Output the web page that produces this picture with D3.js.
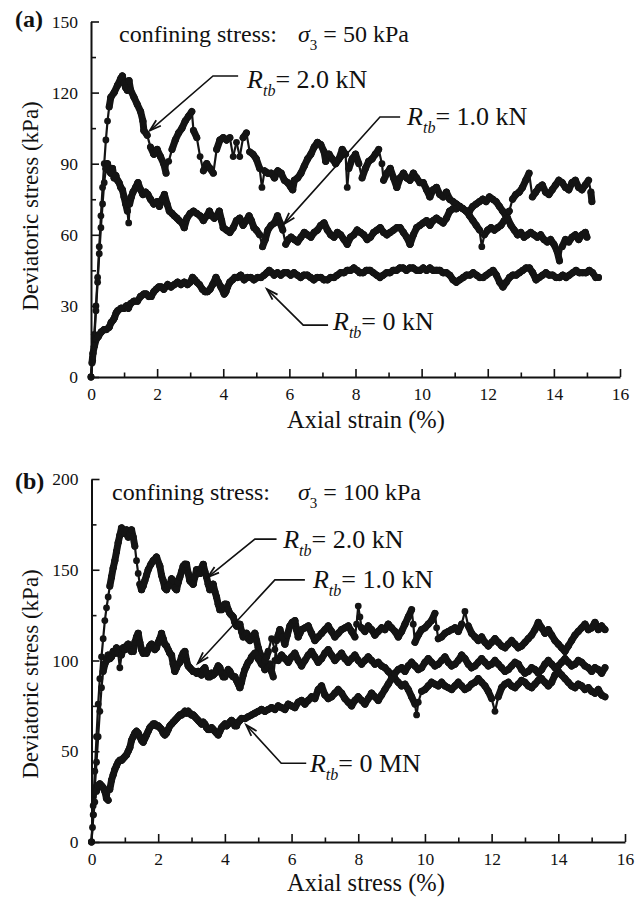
<!DOCTYPE html>
<html>
<head>
<meta charset="utf-8">
<script src="https://cdn.jsdelivr.net/npm/d3@7"></script>
<style>
  body { margin: 0; background: #fff; }
  svg { display: block; font-family: "Liberation Serif", "Times New Roman", serif; }
</style>
</head>
<body>
<svg id="chart" width="643" height="900"></svg>
<script>
// ---- data: [axial strain %, deviatoric stress kPa] ----

// (a) confining stress 50 kPa
const a_rtb20 = [[0,0],[0.05,8],[0.1,18],[0.15,30],[0.2,42],[0.25,55],[0.3,68],[0.35,80],[0.4,90],[0.45,100],[0.5,108],[0.55,114],[0.6,118],[0.7,120],[0.8,123],[0.9,126],[0.95,127],[1.0,124],[1.05,122],[1.1,121],[1.15,125],[1.2,121],[1.3,118],[1.4,115],[1.5,112],[1.57,108],[1.6,104],[1.7,102],[1.8,97],[1.9,94],[2.0,96],[2.1,93],[2.2,90],[2.27,86],[2.35,91],[2.45,96],[2.55,100],[2.65,103],[2.75,105],[2.85,108],[2.95,110],[3.05,112],[3.1,104],[3.2,101],[3.3,93],[3.4,87],[3.5,90],[3.6,88],[3.7,86],[3.8,96],[3.9,100],[4.0,101],[4.1,100],[4.2,101],[4.3,93],[4.4,99],[4.5,93],[4.6,101],[4.7,103],[4.8,95],[4.9,94],[5.0,92],[5.1,88],[5.17,80],[5.25,87],[5.35,86],[5.45,86],[5.55,84],[5.65,87],[5.75,86],[5.85,83],[5.95,82],[6.05,80],[6.1,79],[6.15,83],[6.25,84],[6.35,86],[6.45,89],[6.55,92],[6.65,94],[6.75,97],[6.85,99],[6.95,98],[7.05,95],[7.1,91],[7.2,94],[7.3,92],[7.4,90],[7.5,92],[7.6,96],[7.7,94],[7.75,80],[7.8,88],[7.9,92],[8.0,94],[8.1,90],[8.2,84],[8.3,88],[8.4,91],[8.5,92],[8.6,94],[8.7,96],[8.8,90],[8.85,83],[8.95,86],[9.05,88],[9.15,84],[9.25,80],[9.35,84],[9.45,86],[9.55,84],[9.65,83],[9.75,86],[9.85,84],[9.95,82],[10.05,82],[10.15,79],[10.25,76],[10.35,79],[10.45,80],[10.55,77],[10.65,76],[10.75,78],[10.85,75],[10.95,74],[11.05,73],[11.15,72],[11.25,71],[11.35,70],[11.45,70],[11.55,72],[11.65,73],[11.75,74],[11.85,75],[11.95,74],[12.05,76],[12.15,75],[12.25,74],[12.35,72],[12.45,70],[12.55,68],[12.65,70],[12.75,75],[12.85,77],[12.95,78],[13.05,80],[13.15,83],[13.25,86],[13.35,76],[13.45,78],[13.55,80],[13.65,81],[13.75,78],[13.85,77],[13.95,79],[14.05,81],[14.15,83],[14.25,82],[14.35,80],[14.45,79],[14.55,82],[14.65,83],[14.75,80],[14.85,79],[14.95,81],[15.05,83],[15.12,78],[15.15,74]];

const a_rtb10 = [[0,0],[0.05,7],[0.1,16],[0.15,28],[0.2,40],[0.25,52],[0.3,63],[0.35,73],[0.4,82],[0.45,88],[0.5,90],[0.55,87],[0.6,86],[0.65,88],[0.7,84],[0.75,85],[0.8,83],[0.85,82],[0.9,80],[0.95,79],[1.0,76],[1.05,73],[1.1,70],[1.14,65],[1.17,73],[1.22,76],[1.27,78],[1.35,80],[1.42,82],[1.5,79],[1.57,77],[1.65,78],[1.72,77],[1.8,75],[1.9,73],[2.0,74],[2.07,72],[2.15,75],[2.22,77],[2.3,73],[2.37,70],[2.45,69],[2.52,68],[2.6,67],[2.67,66],[2.75,65],[2.82,63],[2.9,67],[3.0,69],[3.1,70],[3.2,69],[3.3,68],[3.4,66],[3.5,68],[3.58,70],[3.65,68],[3.73,67],[3.8,68],[3.88,70],[3.95,66],[4.0,63],[4.1,62],[4.2,61],[4.3,63],[4.4,66],[4.5,67],[4.6,64],[4.7,66],[4.78,68],[4.85,66],[4.93,63],[5.0,62],[5.1,60],[5.19,55],[5.27,58],[5.35,62],[5.45,64],[5.55,65],[5.64,68],[5.72,65],[5.8,62],[5.89,56],[5.97,58],[6.05,59],[6.15,58],[6.25,57],[6.35,59],[6.45,61],[6.55,60],[6.65,59],[6.75,61],[6.85,62],[6.95,64],[7.05,65],[7.15,62],[7.25,60],[7.35,59],[7.45,61],[7.55,60],[7.65,58],[7.75,56],[7.85,59],[7.95,60],[8.05,62],[8.15,61],[8.25,60],[8.35,58],[8.45,59],[8.55,61],[8.65,62],[8.75,63],[8.85,61],[8.95,60],[9.05,61],[9.15,62],[9.25,63],[9.35,63],[9.45,61],[9.55,59],[9.65,56],[9.75,60],[9.85,63],[9.95,64],[10.05,65],[10.15,66],[10.25,64],[10.35,66],[10.45,67],[10.55,66],[10.65,65],[10.75,67],[10.85,70],[10.95,71],[11.05,71],[11.15,72],[11.25,71],[11.35,70],[11.45,68],[11.55,66],[11.65,64],[11.75,62],[11.82,55],[11.9,60],[12.0,62],[12.1,63],[12.2,62],[12.3,63],[12.4,64],[12.5,66],[12.6,67],[12.7,64],[12.8,62],[12.9,60],[13.0,61],[13.1,59],[13.2,60],[13.3,61],[13.4,60],[13.5,59],[13.6,60],[13.7,58],[13.8,57],[13.9,58],[14.0,56],[14.1,53],[14.17,49],[14.25,55],[14.35,58],[14.45,57],[14.55,59],[14.65,60],[14.75,58],[14.85,60],[14.95,61],[15.0,59]];

const a_rtb0 = [[0,0],[0.03,6],[0.06,10],[0.1,13],[0.16,16],[0.22,17],[0.31,19],[0.4,20],[0.46,20],[0.55,21],[0.61,23],[0.67,24],[0.71,25],[0.76,27],[0.81,28],[0.91,29],[1.0,29],[1.07,30],[1.13,29],[1.2,31],[1.3,32],[1.4,32],[1.5,34],[1.6,35],[1.67,35],[1.75,34],[1.82,34],[1.9,36],[1.97,37],[2.05,38],[2.12,38],[2.2,37],[2.32,39],[2.42,38],[2.52,39],[2.62,40],[2.72,39],[2.82,40],[2.92,39],[3.0,40],[3.07,42],[3.14,41],[3.2,40],[3.28,39],[3.37,37],[3.45,36],[3.52,36],[3.6,37],[3.68,39],[3.78,42],[3.85,40],[3.93,38],[4.03,35],[4.08,36],[4.13,38],[4.2,40],[4.28,41],[4.35,42],[4.43,42],[4.53,43],[4.63,41],[4.73,42],[4.83,42],[4.93,41],[5.04,42],[5.14,42],[5.24,43],[5.32,44],[5.39,45],[5.47,44],[5.54,43],[5.64,44],[5.74,43],[5.84,44],[5.94,44],[6.04,43],[6.14,44],[6.24,43],[6.34,42],[6.44,43],[6.54,43],[6.64,42],[6.74,41],[6.84,42],[6.95,42],[7.05,41],[7.15,41],[7.25,42],[7.35,42],[7.45,43],[7.55,44],[7.65,44],[7.75,45],[7.85,45],[7.95,46],[8.05,45],[8.13,44],[8.23,44],[8.33,45],[8.44,45],[8.54,44],[8.64,43],[8.74,42],[8.84,43],[8.94,44],[9.04,44],[9.14,45],[9.24,45],[9.34,46],[9.44,46],[9.54,45],[9.64,46],[9.74,46],[9.85,45],[9.95,45],[10.05,46],[10.15,45],[10.25,46],[10.35,45],[10.45,45],[10.55,45],[10.65,44],[10.75,44],[10.85,43],[10.95,41],[11.05,40],[11.15,41],[11.26,42],[11.36,43],[11.46,43],[11.56,44],[11.66,43],[11.76,42],[11.86,42],[11.96,43],[12.06,44],[12.16,45],[12.26,43],[12.36,40],[12.46,38],[12.56,40],[12.66,42],[12.76,43],[12.86,43],[12.96,44],[13.06,45],[13.16,46],[13.26,46],[13.36,44],[13.46,41],[13.56,42],[13.66,43],[13.76,44],[13.86,43],[13.96,43],[14.07,42],[14.17,42],[14.27,43],[14.37,42],[14.47,43],[14.57,44],[14.67,45],[14.77,44],[14.87,44],[14.97,44],[15.07,45],[15.17,44],[15.27,42],[15.35,42]];

// (b) confining stress 100 kPa
const b_rtb20 = [[0,0],[0.05,20],[0.1,39],[0.15,58],[0.2,76],[0.25,90],[0.3,102],[0.35,112],[0.4,122],[0.45,129],[0.5,135],[0.55,141],[0.6,146],[0.65,151],[0.7,155],[0.75,160],[0.8,165],[0.85,169],[0.9,173],[0.95,171],[1.0,170],[1.05,172],[1.1,168],[1.15,170],[1.2,172],[1.25,168],[1.3,163],[1.35,155],[1.4,148],[1.45,142],[1.5,139],[1.55,141],[1.6,144],[1.65,147],[1.7,150],[1.78,153],[1.85,155],[1.95,157],[2.05,152],[2.1,147],[2.15,144],[2.2,140],[2.25,139],[2.3,141],[2.35,142],[2.4,145],[2.45,144],[2.5,140],[2.55,139],[2.6,143],[2.65,146],[2.7,149],[2.75,152],[2.8,153],[2.85,153],[2.9,148],[2.95,144],[3.0,143],[3.05,142],[3.1,146],[3.15,150],[3.2,148],[3.25,148],[3.3,151],[3.35,153],[3.4,149],[3.45,146],[3.5,142],[3.55,139],[3.6,141],[3.65,142],[3.7,138],[3.75,135],[3.8,131],[3.85,128],[3.9,128],[3.95,130],[4.0,131],[4.05,131],[4.1,128],[4.15,126],[4.2,125],[4.25,124],[4.3,121],[4.35,119],[4.4,120],[4.45,120],[4.5,116],[4.55,113],[4.6,114],[4.65,115],[4.7,112],[4.75,111],[4.8,113],[4.85,114],[4.9,115],[4.95,111],[5.0,107],[5.05,104],[5.1,102],[5.15,98],[5.2,95],[5.28,97],[5.35,98],[5.4,94],[5.45,91],[5.5,100],[5.55,111],[5.6,114],[5.65,117],[5.72,113],[5.8,109],[5.87,114],[5.95,119],[6.02,121],[6.1,122],[6.15,117],[6.2,113],[6.25,115],[6.3,117],[6.4,118],[6.5,119],[6.6,115],[6.7,111],[6.8,113],[6.9,115],[7.0,117],[7.1,119],[7.2,116],[7.3,113],[7.4,115],[7.5,117],[7.6,118],[7.7,119],[7.8,116],[7.9,113],[7.95,120],[8.0,130],[8.05,124],[8.1,118],[8.2,116],[8.3,119],[8.4,117],[8.5,114],[8.6,116],[8.7,118],[8.8,117],[8.9,120],[9.0,118],[9.1,116],[9.2,113],[9.3,116],[9.4,120],[9.5,124],[9.6,128],[9.65,120],[9.7,110],[9.8,114],[9.9,117],[10.0,118],[10.1,120],[10.2,122],[10.3,126],[10.35,118],[10.4,112],[10.5,113],[10.6,115],[10.7,116],[10.8,117],[10.9,118],[11.0,116],[11.1,120],[11.2,127],[11.3,119],[11.4,115],[11.5,113],[11.6,111],[11.7,113],[11.8,110],[11.9,108],[12.0,110],[12.1,112],[12.2,110],[12.3,108],[12.4,107],[12.5,109],[12.6,111],[12.7,109],[12.8,107],[12.9,108],[13.0,110],[13.1,112],[13.2,114],[13.3,117],[13.4,121],[13.5,118],[13.6,115],[13.7,117],[13.8,114],[13.9,111],[14.0,109],[14.1,107],[14.2,105],[14.3,108],[14.4,111],[14.5,114],[14.6,116],[14.7,118],[14.8,120],[14.9,117],[15.0,118],[15.1,121],[15.2,117],[15.3,119],[15.4,117]];

const b_rtb10 = [[0,0],[0.05,15],[0.1,30],[0.15,44],[0.2,58],[0.25,72],[0.3,85],[0.35,94],[0.4,98],[0.45,100],[0.5,103],[0.55,101],[0.6,102],[0.65,105],[0.7,104],[0.75,107],[0.8,104],[0.85,96],[0.9,103],[0.95,107],[1.0,106],[1.05,108],[1.1,109],[1.15,106],[1.2,105],[1.25,105],[1.3,110],[1.35,113],[1.4,115],[1.45,110],[1.5,106],[1.55,104],[1.6,105],[1.65,104],[1.7,106],[1.75,108],[1.8,109],[1.85,107],[1.9,106],[1.95,107],[2.0,110],[2.05,112],[2.1,115],[2.15,112],[2.2,109],[2.25,108],[2.3,106],[2.35,104],[2.4,103],[2.45,98],[2.5,94],[2.55,96],[2.6,98],[2.65,99],[2.7,102],[2.75,104],[2.8,105],[2.85,100],[2.9,97],[2.95,96],[3.0,95],[3.05,94],[3.1,94],[3.15,93],[3.2,94],[3.25,93],[3.3,92],[3.35,95],[3.4,96],[3.45,93],[3.5,91],[3.55,91],[3.6,93],[3.65,92],[3.7,93],[3.75,95],[3.8,97],[3.85,96],[3.9,93],[3.95,91],[4.0,91],[4.05,93],[4.1,95],[4.15,94],[4.2,92],[4.25,91],[4.3,91],[4.35,89],[4.4,87],[4.45,85],[4.5,88],[4.55,92],[4.6,95],[4.65,97],[4.7,99],[4.75,100],[4.8,102],[4.85,103],[4.9,104],[5.0,101],[5.1,98],[5.2,100],[5.25,102],[5.3,105],[5.4,112],[5.5,106],[5.6,100],[5.7,103],[5.8,101],[5.9,99],[6.0,102],[6.1,104],[6.2,100],[6.3,97],[6.4,100],[6.5,103],[6.6,105],[6.7,102],[6.8,99],[6.9,101],[7.0,104],[7.1,106],[7.2,103],[7.3,100],[7.4,102],[7.5,104],[7.6,101],[7.7,99],[7.8,101],[7.9,103],[8.0,100],[8.1,98],[8.2,100],[8.3,102],[8.4,100],[8.5,98],[8.6,99],[8.7,97],[8.8,96],[8.9,94],[9.0,92],[9.1,90],[9.2,88],[9.3,86],[9.4,87],[9.5,84],[9.6,80],[9.7,76],[9.75,70],[9.8,77],[9.9,83],[10.0,84],[10.1,86],[10.2,88],[10.3,87],[10.4,86],[10.5,88],[10.6,86],[10.7,85],[10.8,84],[10.9,86],[11.0,88],[11.1,86],[11.2,84],[11.3,85],[11.4,87],[11.5,88],[11.6,90],[11.7,88],[11.8,86],[11.9,83],[12.0,79],[12.1,72],[12.2,80],[12.3,85],[12.4,87],[12.5,88],[12.6,86],[12.7,85],[12.8,87],[12.9,89],[13.0,88],[13.1,86],[13.2,85],[13.3,87],[13.4,89],[13.5,90],[13.6,88],[13.7,86],[13.8,88],[13.9,92],[14.0,94],[14.1,92],[14.2,90],[14.3,88],[14.4,86],[14.5,85],[14.6,87],[14.7,86],[14.8,84],[14.9,85],[15.0,83],[15.1,82],[15.2,84],[15.3,81],[15.4,80]];

const b_rtb0 = [[0,0],[0.03,8],[0.06,15],[0.1,22],[0.15,28],[0.2,31],[0.25,32],[0.3,31],[0.35,30],[0.4,28],[0.45,24],[0.5,23],[0.55,29],[0.6,34],[0.65,37],[0.7,40],[0.75,42],[0.8,44],[0.85,45],[0.9,45],[0.95,46],[1.0,47],[1.05,48],[1.1,50],[1.15,52],[1.2,56],[1.25,58],[1.3,60],[1.35,61],[1.4,60],[1.45,58],[1.5,56],[1.55,55],[1.6,57],[1.65,59],[1.7,61],[1.75,63],[1.8,64],[1.85,65],[1.9,65],[1.95,64],[2.0,64],[2.05,63],[2.1,62],[2.15,60],[2.2,59],[2.25,60],[2.3,62],[2.35,64],[2.4,65],[2.45,66],[2.5,67],[2.55,68],[2.6,69],[2.65,70],[2.7,70],[2.75,71],[2.8,72],[2.85,71],[2.9,72],[2.95,71],[3.0,70],[3.05,70],[3.1,69],[3.15,68],[3.2,67],[3.25,66],[3.3,65],[3.35,66],[3.4,65],[3.45,63],[3.5,62],[3.55,62],[3.6,63],[3.65,62],[3.7,61],[3.75,60],[3.8,59],[3.85,61],[3.9,63],[3.95,64],[4.0,65],[4.05,64],[4.1,65],[4.15,66],[4.2,67],[4.25,66],[4.3,64],[4.35,64],[4.4,66],[4.45,67],[4.5,68],[4.6,68],[4.7,69],[4.8,70],[4.9,71],[5.0,72],[5.1,73],[5.2,72],[5.3,73],[5.4,74],[5.5,73],[5.6,75],[5.7,74],[5.8,73],[5.9,76],[6.0,75],[6.1,74],[6.2,77],[6.3,78],[6.4,76],[6.5,78],[6.6,80],[6.7,79],[6.8,84],[6.9,86],[7.0,81],[7.1,79],[7.2,80],[7.3,82],[7.4,84],[7.5,82],[7.6,79],[7.7,77],[7.8,75],[7.9,78],[8.0,80],[8.1,78],[8.2,76],[8.3,79],[8.4,82],[8.5,80],[8.6,78],[8.7,81],[8.8,84],[8.9,87],[9.0,90],[9.1,93],[9.2,95],[9.3,96],[9.4,94],[9.5,97],[9.6,99],[9.7,97],[9.8,95],[9.9,96],[10.0,99],[10.1,101],[10.2,99],[10.3,97],[10.4,98],[10.5,100],[10.6,102],[10.7,99],[10.8,97],[10.9,98],[11.0,100],[11.1,103],[11.2,101],[11.3,98],[11.4,96],[11.5,97],[11.6,99],[11.7,101],[11.8,99],[11.9,97],[12.0,98],[12.1,100],[12.2,98],[12.3,96],[12.4,94],[12.5,95],[12.6,97],[12.7,99],[12.8,98],[12.9,95],[13.0,93],[13.1,94],[13.2,96],[13.3,95],[13.4,93],[13.5,95],[13.6,98],[13.7,100],[13.8,98],[13.9,96],[14.0,97],[14.1,99],[14.2,101],[14.3,99],[14.4,97],[14.5,98],[14.6,100],[14.7,99],[14.8,97],[14.9,96],[15.0,94],[15.1,96],[15.2,95],[15.3,93],[15.4,96]];

// ---- ticks ----
const xMajor = [0, 2, 4, 6, 8, 10, 12, 14, 16];
const xMinor = [1, 3, 5, 7, 9, 11, 13, 15];
const yMajorA = [0, 30, 60, 90, 120, 150];
const yMinorA = [15, 45, 75, 105, 135];
const yMajorB = [0, 50, 100, 150, 200];
const yMinorB = [25, 75, 125, 175];

// ---- annotation labels: tip, elbow, end of leader, text anchor (data units) ----
const annotA = [
  { tip: [1.78, 104], elbow: [3.69, 127], end: [4.45, 127], text: [4.72, 122], val: "2.0 kN" },
  { tip: [5.84, 64.6], elbow: [8.74, 109.7], end: [9.35, 109.7], text: [9.56, 106.3], val: "1.0 kN" },
  { tip: [5.32, 37.1], elbow: [6.42, 21.9], end: [7.17, 21.9], text: [7.32, 19.8], val: "0 kN" }
];
const annotB = [
  { tip: [3.49, 146], elbow: [4.9, 166.9], end: [5.55, 166.9], text: [5.75, 161.9], val: "2.0 kN" },
  { tip: [3.19, 98.5], elbow: [5.5, 144.4], end: [6.4, 144.4], text: [6.64, 139.9], val: "1.0 kN" },
  { tip: [4.64, 64.5], elbow: [5.69, 43.4], end: [6.44, 43.4], text: [6.55, 38.8], val: "0 MN" }
];

const svg = d3.select("#chart");

const panels = [
  { tag: "(a)", tagY: 27, left: 91, right: 620, top: 21.5, bottom: 377, yMax: 150,
    yMajor: yMajorA, yMinor: yMinorA, series: [a_rtb20, a_rtb10, a_rtb0],
    sigma: "50 kPa", titleY: 42, titleX: 119, xLabel: "Axial strain (%)", xLabelY: 428,
    yLabelY: 206, annots: annotA },
  { tag: "(b)", tagY: 489, left: 91.5, right: 625, top: 479, bottom: 842, yMax: 200,
    yMajor: yMajorB, yMinor: yMinorB, series: [b_rtb20, b_rtb10, b_rtb0],
    sigma: "100 kPa", titleY: 500, titleX: 112, xLabel: "Axial stress (%)", xLabelY: 891,
    yLabelY: 674, annots: annotB }
];

panels.forEach(drawPanel);

function drawPanel(p) {
  const x = d3.scaleLinear().domain([0, 16]).range([p.left, p.right]);
  const y = d3.scaleLinear().domain([0, p.yMax]).range([p.bottom, p.top]);
  const g = svg.append("g");

  // curves: where the record is dense it reads as a heavy band,
  // long jumps between readings stay a thin connecting stroke
  p.series.forEach(s => {
    const segs = d3.pairs(s);
    g.selectAll(null).data(segs).enter().append("line")
      .attr("x1", d => x(d[0][0])).attr("y1", d => y(d[0][1]))
      .attr("x2", d => x(d[1][0])).attr("y2", d => y(d[1][1]))
      .attr("stroke", "#141414")
      .attr("stroke-linecap", "round")
      .attr("stroke-width", d => {
        const len = Math.hypot(x(d[1][0]) - x(d[0][0]), y(d[1][1]) - y(d[0][1]));
        return len > 11 ? 2.2 : 7;
      });
    g.selectAll(null).data(s).enter().append("circle")
      .attr("cx", d => x(d[0]))
      .attr("cy", d => y(d[1]))
      .attr("r", 3.4)
      .attr("fill", "#141414");
  });

  // axes, ticks pointing inward
  const xAxis = g.append("g").attr("transform", "translate(0," + p.bottom + ")")
    .call(d3.axisBottom(x).tickValues(xMajor).tickSize(-8).tickSizeOuter(0).tickPadding(11));
  g.append("g").attr("transform", "translate(0," + p.bottom + ")")
    .call(d3.axisBottom(x).tickValues(xMinor).tickSize(-4.5).tickFormat("")).select(".domain").remove();
  const yAxis = g.append("g").attr("transform", "translate(" + p.left + ",0)")
    .call(d3.axisLeft(y).tickValues(p.yMajor).tickSize(-8).tickSizeOuter(0).tickPadding(13));
  g.append("g").attr("transform", "translate(" + p.left + ",0)")
    .call(d3.axisLeft(y).tickValues(p.yMinor).tickSize(-5).tickFormat("")).select(".domain").remove();

  g.selectAll(".domain").attr("stroke", "#111").attr("stroke-width", 2);
  g.selectAll(".tick line").attr("stroke", "#111").attr("stroke-width", 1.6);
  [xAxis, yAxis].forEach(a => a.selectAll("text")
    .attr("font-family", "Liberation Serif, serif")
    .attr("font-size", 17.5)
    .attr("fill", "#111"));

  // axis titles
  g.append("text")
    .attr("x", 366).attr("y", p.xLabelY)
    .attr("text-anchor", "middle").attr("font-size", 24.5).attr("fill", "#111")
    .text(p.xLabel);
  g.append("text")
    .attr("transform", "translate(38," + p.yLabelY + ") rotate(-90)")
    .attr("text-anchor", "middle").attr("font-size", 23).attr("fill", "#111")
    .text("Deviatoric stress (kPa)");

  // panel tag
  g.append("text").attr("x", 15).attr("y", p.tagY)
    .attr("font-size", 24).attr("font-weight", "bold").attr("fill", "#111")
    .text(p.tag);

  // confining stress title
  const t = g.append("text").attr("x", p.titleX).attr("y", p.titleY)
    .attr("font-size", 24).attr("fill", "#111");
  t.append("tspan").text("confining stress:");
  t.append("tspan").attr("x", 298).attr("font-style", "italic").text("σ");
  t.append("tspan").attr("font-size", 15).attr("dy", 8).text("3");
  t.append("tspan").attr("dy", -8).text(" = " + p.sigma);

  // leader lines with arrowheads and R_tb labels
  p.annots.forEach(a => {
    const tip = [x(a.tip[0]), y(a.tip[1])];
    const elb = [x(a.elbow[0]), y(a.elbow[1])];
    const end = [x(a.end[0]), y(a.end[1])];
    g.append("polyline")
      .attr("points", [end, elb, tip].map(q => q.join(",")).join(" "))
      .attr("fill", "none").attr("stroke", "#111").attr("stroke-width", 1.6);
    const ang = Math.atan2(elb[1] - tip[1], elb[0] - tip[0]);
    const len = 12, spread = 0.3;
    const h1 = [tip[0] + len * Math.cos(ang + spread), tip[1] + len * Math.sin(ang + spread)];
    const h2 = [tip[0] + len * Math.cos(ang - spread), tip[1] + len * Math.sin(ang - spread)];
    g.append("polyline")
      .attr("points", [h1, tip, h2].map(q => q.join(",")).join(" "))
      .attr("fill", "none").attr("stroke", "#111").attr("stroke-width", 1.8);

    const lt = g.append("text").attr("x", x(a.text[0])).attr("y", y(a.text[1]))
      .attr("font-size", 26).attr("fill", "#111");
    lt.append("tspan").attr("font-style", "italic").text("R");
    lt.append("tspan").attr("font-style", "italic").attr("font-size", 16).attr("dy", 8).text("tb");
    lt.append("tspan").attr("dy", -8).text("= " + a.val);
  });
}
</script>
</body>
</html>
